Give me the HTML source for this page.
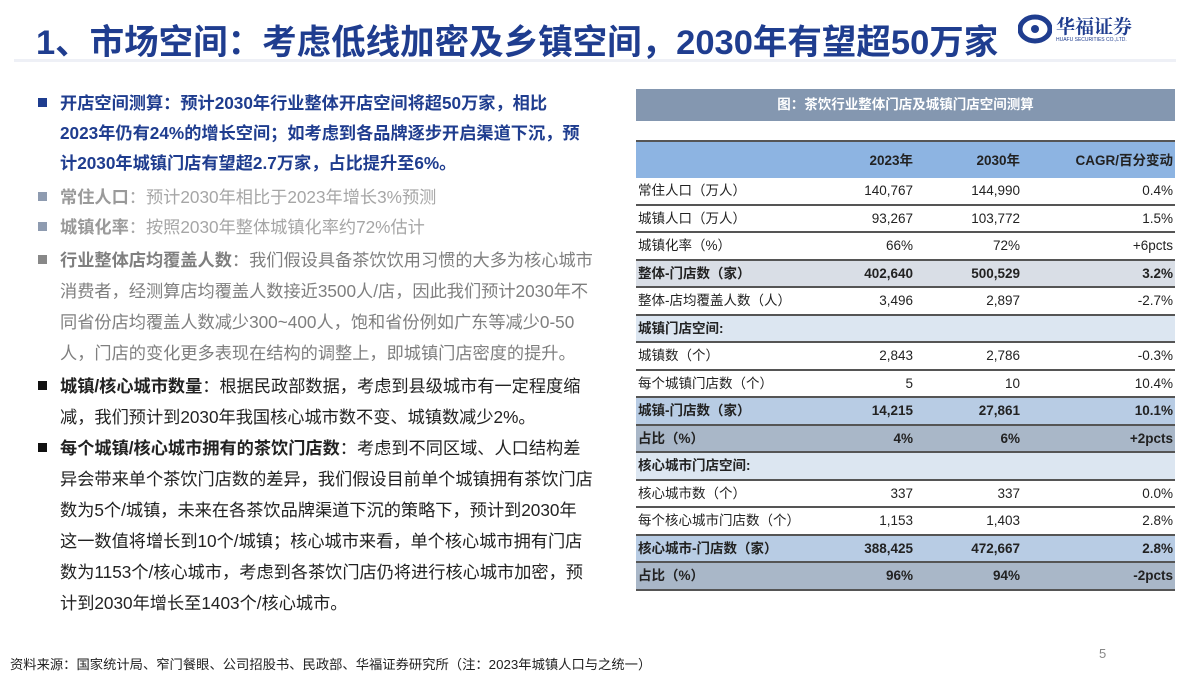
<!DOCTYPE html>
<html><head><meta charset="utf-8">
<style>
*{margin:0;padding:0;box-sizing:border-box}
body{width:1200px;height:675px;background:#fff;position:relative;overflow:hidden;font-family:"Liberation Sans","Noto Sans CJK SC",sans-serif}
.title{position:absolute;left:36px;top:14px;font-size:34.5px;font-weight:bold;color:#1f3d8f;white-space:nowrap;letter-spacing:0px}
.rule{position:absolute;left:14px;top:59px;width:1162px;height:3px;background:#eef0f6}
.ln{position:absolute;left:60px;font-size:17.2px;white-space:nowrap;line-height:20px}
.b1{color:#1f3d8f;font-weight:bold}
.g{color:#a6a6a6}.gd{color:#7f7f7f}.k{color:#222}
.bul{position:absolute;left:38px;width:9px;height:9px}
.tbar{position:absolute;left:636px;top:89px;width:539px;height:32px;background:#8497b0;color:#fff;font-size:13.5px;font-weight:bold;text-align:center;line-height:32px}
.tbl{position:absolute;left:636px;top:140px;width:539px}
.row{position:relative;height:27.5px;border-bottom:2px solid #555;font-size:13.5px;color:#222}
.row span{position:absolute;top:0;line-height:26px}
.c0{left:2px}.c1{right:262px}.c2{right:155px}.c3{right:2px}
.hd{height:38px;background:#8db4e2;border-top:2px solid #555;border-bottom:none;font-weight:bold}
.hd span{line-height:38px}
.bd{font-weight:bold}
</style></head><body>
<div class="title">1、市场空间：考虑低线加密及乡镇空间，2030年有望超50万家</div>
<div style="position:absolute;left:1018px;top:12px;width:145px;height:36px">
<svg width="34" height="30" viewBox="0 0 34 30" style="position:absolute;left:0;top:2px"><ellipse cx="17" cy="15" rx="15" ry="12" fill="none" stroke="#1f3d8f" stroke-width="5"/><circle cx="17" cy="15" r="4" fill="#1f3d8f"/></svg>
<div style="position:absolute;left:38px;top:0;font-size:19px;font-weight:bold;color:#1f3d8f;font-family:'Noto Serif CJK SC',serif;white-space:nowrap">华福证券</div>
<div style="position:absolute;left:38px;top:25px;font-size:5px;color:#1f3d8f;white-space:nowrap">HUAFU SECURITIES CO.,LTD.</div>
</div>
<div class="rule"></div>

<div>
<div class="bul" style="top:98px;background:#1f3d8f"></div>
<div class="ln b1" style="top:93px">开店空间测算：预计2030年行业整体开店空间将超50万家，相比</div>
<div class="ln b1" style="top:123px">2023年仍有24%的增长空间；如考虑到各品牌逐步开启渠道下沉，预</div>
<div class="ln b1" style="top:153px">计2030年城镇门店有望超2.7万家，占比提升至6%。</div>
<div class="bul" style="top:192px;background:#8e9bb0"></div>
<div class="ln g" style="top:187px"><b style="color:#9a9a9a">常住人口</b>：预计2030年相比于2023年增长3%预测</div>
<div class="bul" style="top:222px;background:#8e9bb0"></div>
<div class="ln g" style="top:217px"><b style="color:#9a9a9a">城镇化率</b>：按照2030年整体城镇化率约72%估计</div>
<div class="bul" style="top:255px;background:#888"></div>
<div class="ln gd" style="top:250px"><b>行业整体店均覆盖人数</b>：我们假设具备茶饮饮用习惯的大多为核心城市</div>
<div class="ln gd" style="top:281px">消费者，经测算店均覆盖人数接近3500人/店，因此我们预计2030年不</div>
<div class="ln gd" style="top:312px">同省份店均覆盖人数减少300~400人，饱和省份例如广东等减少0-50</div>
<div class="ln gd" style="top:343px">人，门店的变化更多表现在结构的调整上，即城镇门店密度的提升。</div>
<div class="bul" style="top:381px;background:#111"></div>
<div class="ln k" style="top:376px"><b>城镇/核心城市数量</b>：根据民政部数据，考虑到县级城市有一定程度缩</div>
<div class="ln k" style="top:407px">减，我们预计到2030年我国核心城市数不变、城镇数减少2%。</div>
<div class="bul" style="top:443px;background:#111"></div>
<div class="ln k" style="top:438px"><b>每个城镇/核心城市拥有的茶饮门店数</b>：考虑到不同区域、人口结构差</div>
<div class="ln k" style="top:469px">异会带来单个茶饮门店数的差异，我们假设目前单个城镇拥有茶饮门店</div>
<div class="ln k" style="top:500px">数为5个/城镇，未来在各茶饮品牌渠道下沉的策略下，预计到2030年</div>
<div class="ln k" style="top:531px">这一数值将增长到10个/城镇；核心城市来看，单个核心城市拥有门店</div>
<div class="ln k" style="top:562px">数为1153个/核心城市，考虑到各茶饮门店仍将进行核心城市加密，预</div>
<div class="ln k" style="top:593px">计到2030年增长至1403个/核心城市。</div>
</div>

<div class="tbar">图：茶饮行业整体门店及城镇门店空间测算</div>
<div class="tbl">
<div class="row hd"><span class="c1">2023年</span><span class="c2">2030年</span><span class="c3">CAGR/百分变动</span></div>
<div class="row"><span class="c0">常住人口（万人）</span><span class="c1">140,767</span><span class="c2">144,990</span><span class="c3">0.4%</span></div>
<div class="row"><span class="c0">城镇人口（万人）</span><span class="c1">93,267</span><span class="c2">103,772</span><span class="c3">1.5%</span></div>
<div class="row"><span class="c0">城镇化率（%）</span><span class="c1">66%</span><span class="c2">72%</span><span class="c3">+6pcts</span></div>
<div class="row bd" style="background:#d9dee6"><span class="c0">整体-门店数（家）</span><span class="c1">402,640</span><span class="c2">500,529</span><span class="c3">3.2%</span></div>
<div class="row"><span class="c0">整体-店均覆盖人数（人）</span><span class="c1">3,496</span><span class="c2">2,897</span><span class="c3">-2.7%</span></div>
<div class="row bd" style="background:#dce6f1"><span class="c0">城镇门店空间:</span></div>
<div class="row"><span class="c0">城镇数（个）</span><span class="c1">2,843</span><span class="c2">2,786</span><span class="c3">-0.3%</span></div>
<div class="row"><span class="c0">每个城镇门店数（个）</span><span class="c1">5</span><span class="c2">10</span><span class="c3">10.4%</span></div>
<div class="row bd" style="background:#b8cce4"><span class="c0">城镇-门店数（家）</span><span class="c1">14,215</span><span class="c2">27,861</span><span class="c3">10.1%</span></div>
<div class="row bd" style="background:#a9b7c8"><span class="c0">占比（%）</span><span class="c1">4%</span><span class="c2">6%</span><span class="c3">+2pcts</span></div>
<div class="row bd" style="background:#dce6f1"><span class="c0">核心城市门店空间:</span></div>
<div class="row"><span class="c0">核心城市数（个）</span><span class="c1">337</span><span class="c2">337</span><span class="c3">0.0%</span></div>
<div class="row"><span class="c0">每个核心城市门店数（个）</span><span class="c1">1,153</span><span class="c2">1,403</span><span class="c3">2.8%</span></div>
<div class="row bd" style="background:#b8cce4"><span class="c0">核心城市-门店数（家）</span><span class="c1">388,425</span><span class="c2">472,667</span><span class="c3">2.8%</span></div>
<div class="row bd" style="background:#a9b7c8"><span class="c0">占比（%）</span><span class="c1">96%</span><span class="c2">94%</span><span class="c3">-2pcts</span></div>
</div>

<div style="position:absolute;left:10px;top:654px;font-size:13.3px;color:#222;white-space:nowrap">资料来源：国家统计局、窄门餐眼、公司招股书、民政部、华福证券研究所（注：2023年城镇人口与之统一）</div>
<div style="position:absolute;left:1099px;top:646px;font-size:13px;color:#888">5</div>
</body></html>
